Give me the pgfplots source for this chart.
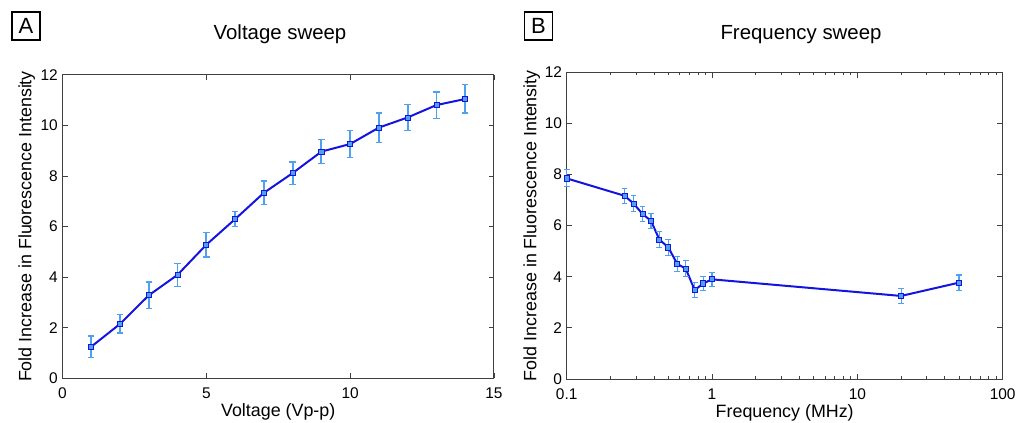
\documentclass[border=0pt]{standalone}
\usepackage{pgfplots}
\pgfplotsset{compat=1.18}
\usepackage{pgfplotstable}
\usepackage{fontspec}
\setmainfont{Liberation Sans}
\definecolor{lineblue}{RGB}{20,20,225}
\definecolor{errblue}{RGB}{80,160,240}

\pgfplotstableread{
x y e
1 1.25 0.42
2 2.15 0.36
3 3.28 0.53
4 4.09 0.45
5 5.28 0.49
6 6.29 0.29
7 7.33 0.47
8 8.11 0.44
9 8.96 0.47
10 9.26 0.54
11 9.91 0.58
12 10.31 0.51
13 10.80 0.52
14 11.04 0.56
}\voltdata

\pgfplotstableread{
x y e
0.1 7.85 0.33
0.25 7.17 0.30
0.288 6.87 0.30
0.332 6.46 0.28
0.38 6.19 0.30
0.434 5.46 0.30
0.50 5.15 0.30
0.577 4.50 0.28
0.659 4.32 0.30
0.76 3.48 0.28
0.871 3.74 0.28
1.0 3.90 0.28
20 3.25 0.30
50 3.77 0.30
}\freqdata

\pgfplotsset{
  myax/.style={
    scale only axis,
    clip=false,
    axis line style={draw=black!75, line width=0.75pt},
    tick style={black!75, line width=0.6pt},
    major tick length=4pt,
    minor tick length=2.2pt,
    tick align=inside,
    ticklabel style={font=\fontsize{11.6}{12}\selectfont},
    xticklabel style={yshift=-3.5pt},
    label style={font=\fontsize{13.4}{14}\selectfont},
    /pgf/number format/assume math mode=true,
    ymin=0, ymax=12, ytick={0,2,...,12},
  }
}

\begin{document}
\begin{tikzpicture}
\useasboundingbox (0,0) rectangle (762pt,316.5pt);

\begin{axis}[myax,
  at={(46.875pt,32.775pt)}, anchor=south west,
  width=323.6pt, height=227.7pt,
  xmin=0, xmax=15, xtick={0,5,10,15},
  xlabel={Voltage (Vp-p)},
  ylabel={Fold Increase in Fluorescence Intensity},
  xlabel style={at={(axis description cs:0.5,-0.11)}, anchor=center},
  ylabel style={at={(axis description cs:-0.083,0.5)}, anchor=center},
]
\addplot[lineblue, line width=1.5pt, mark=square*, mark size=1.9pt,
  mark options={draw=lineblue, fill=errblue, line width=0.6pt},
  error bars/.cd, y dir=both, y explicit,
  error bar style={errblue, line width=1.4pt},
  error mark options={rotate=90, errblue, line width=1pt, mark size=2.4pt}]
  table[x=x, y=y, y error=e] {\voltdata};
\end{axis}

\begin{axis}[myax,
  at={(425.025pt,32.25pt)}, anchor=south west,
  width=327pt, height=230pt,
  xmode=log, xmin=0.1, xmax=100,
  xtick={0.1,1,10,100}, xticklabels={0.1,1,10,100},
  xlabel={Frequency (MHz)},
  ylabel={Fold Increase in Fluorescence Intensity},
  xlabel style={at={(axis description cs:0.5,-0.11)}, anchor=center},
  ylabel style={at={(axis description cs:-0.080,0.5)}, anchor=center},
]
\addplot[lineblue, line width=1.5pt, mark=square*, mark size=1.9pt,
  mark options={draw=lineblue, fill=errblue, line width=0.6pt},
  error bars/.cd, y dir=both, y explicit,
  error bar style={errblue, line width=0.9pt},
  error mark options={rotate=90, errblue, line width=0.8pt, mark size=2.2pt}]
  table[x=x, y=y, y error=e] {\freqdata};
\end{axis}

\node[draw, line width=0.8pt, minimum size=21pt, inner sep=0pt, font=\fontsize{16.5}{17}\selectfont] at (19.5pt,297pt) {A};
\node[draw, line width=0.8pt, minimum size=21pt, inner sep=0pt, font=\fontsize{16.5}{17}\selectfont] at (403.875pt,297pt) {B};
\node[font=\fontsize{15.3}{16}\selectfont] at (210pt,290.5pt) {Voltage sweep};
\node[font=\fontsize{15.3}{16}\selectfont] at (600.75pt,290.5pt) {Frequency sweep};
\end{tikzpicture}
\end{document}
